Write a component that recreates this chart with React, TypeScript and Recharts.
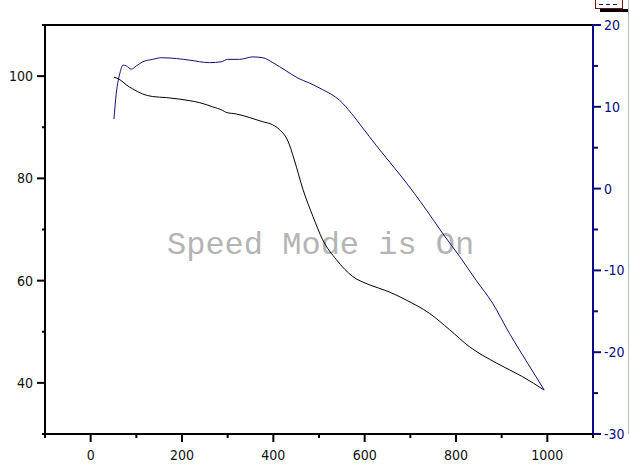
import React from 'react';
import { LineChart, Line, XAxis, YAxis, ReferenceLine } from 'recharts';

// Left-axis series (black)
const blackX = [51, 64, 78, 92, 114, 136, 166, 195, 217, 239, 267, 289, 297, 319, 348, 376, 398, 414, 432, 446, 465, 487, 508, 538, 574, 610, 651, 691, 742, 786, 829, 888, 946, 993];
const blackY = [99.8, 99.3, 98.3, 97.5, 96.5, 96.0, 95.8, 95.5, 95.2, 94.8, 94.0, 93.3, 92.9, 92.6, 91.9, 91.1, 90.5, 89.5, 87.3, 83.6, 77.8, 72.5, 68.0, 64.1, 60.8, 59.2, 57.9, 56.2, 53.6, 50.4, 47.1, 43.9, 41.2, 38.6];

// Right-axis series (navy)
const blueX = [51, 56, 64, 71, 78, 89, 100, 114, 136, 155, 188, 217, 260, 286, 300, 326, 355, 377, 399, 428, 454, 479, 508, 545, 571, 596, 625, 651, 683, 735, 771, 808, 844, 880, 917, 953, 993];
const blueY = [8.5, 11.6, 14.1, 15.1, 15.0, 14.6, 15.0, 15.5, 15.8, 16.0, 15.9, 15.7, 15.4, 15.5, 15.8, 15.8, 16.1, 16.0, 15.4, 14.4, 13.5, 12.9, 12.1, 10.8, 9.2, 7.4, 5.3, 3.5, 1.3, -2.6, -5.5, -8.3, -11.2, -14.0, -17.7, -21.0, -24.6];

// Tick values
const xTicks = [-100, 0, 100, 200, 300, 400, 500, 600, 700, 800, 900, 1000, 1100];
const leftTicks = [30, 40, 50, 60, 70, 80, 90, 100, 110];
const rightTicks = [-30, -25, -20, -15, -10, -5, 0, 5, 10, 15, 20];

const blackData = blackX.map((x, i) => ({ x, y: blackY[i] }));
const blueData = blueX.map((x, i) => ({ x, y: blueY[i] }));

const NAVY = '#0a0a84';
const TICK_FONT = "'Liberation Sans Narrow', 'DejaVu Sans Condensed', 'Arial Narrow', sans-serif";

const BottomTick = (props: any) => {
  const { x, y, payload } = props;
  const v = payload.value;
  const major = v % 200 === 0;
  return (
    <g>
      <line x1={x} x2={x} y1={y} y2={y + (major ? 8 : 4)} stroke="#000" strokeWidth={2} />
      {major && (
        <text x={x} y={y + 26} textAnchor="middle" fontFamily={TICK_FONT} fontSize={14} fill="#111">
          {v}
        </text>
      )}
    </g>
  );
};

const LeftTick = (props: any) => {
  const { x, y, payload } = props;
  const v = payload.value;
  const major = v % 20 === 0;
  return (
    <g>
      <line x1={x} x2={x - (major ? 8 : 3)} y1={y} y2={y} stroke="#000" strokeWidth={2} />
      {major && (
        <text x={x - 12} y={y + 5} textAnchor="end" fontFamily={TICK_FONT} fontSize={14} fill="#111">
          {v}
        </text>
      )}
    </g>
  );
};

const RightTick = (props: any) => {
  const { x, y, payload } = props;
  const v = payload.value;
  const major = v % 10 === 0;
  return (
    <g>
      <line x1={x} x2={x + (major ? 8 : 5)} y1={y} y2={y} stroke={NAVY} strokeWidth={2} />
      {major && (
        <text x={x + 11} y={y + 5} textAnchor="start" fontFamily={TICK_FONT} fontSize={14} fill={NAVY}>
          {v}
        </text>
      )}
    </g>
  );
};

export default function App() {
  return (
    <div style={{ position: 'absolute', left: 0, top: 0, width: 631, height: 473, background: '#fff', overflow: 'hidden' }}>
      <svg width={631} height={473} style={{ position: 'absolute', left: 0, top: 0 }}>
        <text x={167} y={254} fontFamily="'Liberation Mono', 'DejaVu Sans Mono', monospace" fontSize={32} fill="#b4b4b4">
          Speed Mode is On
        </text>
        <line x1={628.5} x2={628.5} y1={0} y2={434} stroke="#b4c4b0" strokeWidth={1} />
        <rect x={600} y={9} width={28} height={3} fill="#000" />
        <rect x={595.5} y={-1.5} width={27} height={10} fill="#fff" stroke="#7a1010" strokeWidth={1} />
        <line x1={599} x2={619} y1={4.5} y2={4.5} stroke={NAVY} strokeWidth={1} strokeDasharray="4 3" />
      </svg>
      <div style={{ position: 'absolute', left: 0, top: 0 }}>
        <LineChart width={631} height={473} margin={{ top: 25, right: 0, bottom: 0, left: 0 }}>
          <XAxis
            type="number"
            dataKey="x"
            domain={[-100, 1100]}
            ticks={xTicks}
            interval={0}
            height={39}
            tickSize={0}
            tickMargin={0}
            tickLine={false}
            axisLine={{ stroke: '#000', strokeWidth: 2 }}
            tick={<BottomTick />}
            allowDataOverflow
          />
          <YAxis
            yAxisId="left"
            orientation="left"
            type="number"
            domain={[30, 110]}
            ticks={leftTicks}
            interval={0}
            width={45}
            tickSize={0}
            tickMargin={0}
            tickLine={false}
            axisLine={{ stroke: '#000', strokeWidth: 2 }}
            tick={<LeftTick />}
            allowDataOverflow
          />
          <YAxis
            yAxisId="right"
            orientation="right"
            type="number"
            domain={[-30, 20]}
            ticks={rightTicks}
            interval={0}
            width={38}
            tickSize={0}
            tickMargin={0}
            tickLine={false}
            axisLine={{ stroke: NAVY, strokeWidth: 2 }}
            tick={<RightTick />}
            allowDataOverflow
          />
          <ReferenceLine yAxisId="left" y={110} stroke="#000" strokeWidth={2} ifOverflow="visible" />
          <Line
            yAxisId="left"
            data={blackData}
            dataKey="y"
            type="monotone"
            stroke="#000"
            strokeWidth={1}
            dot={false}
            activeDot={false}
            isAnimationActive={false}
          />
          <Line
            yAxisId="right"
            data={blueData}
            dataKey="y"
            type="monotone"
            stroke="#101078"
            strokeWidth={1}
            dot={false}
            activeDot={false}
            isAnimationActive={false}
          />
        </LineChart>
      </div>
    </div>
  );
}
